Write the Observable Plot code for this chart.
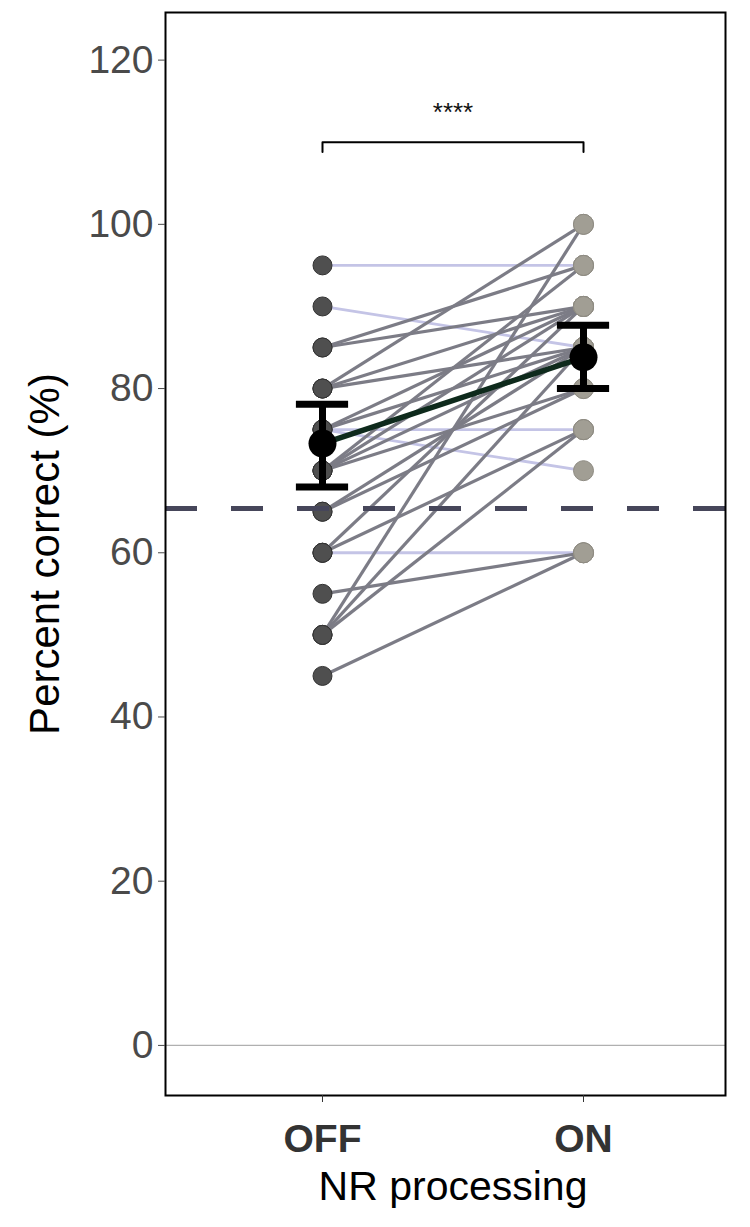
<!DOCTYPE html>
<html>
<head>
<meta charset="utf-8">
<script src="https://cdn.jsdelivr.net/npm/d3@7"></script>
<script src="https://cdn.jsdelivr.net/npm/@observablehq/plot@0.6"></script>
<style>
  html, body { margin: 0; padding: 0; background: #fff; }
  #chart svg { display: block; }
</style>
</head>
<body>
<div id="chart"></div>
<script>
// Conditions and tick labels
const conditions = ["OFF", "ON"];
const yTicks = [0, 20, 40, 60, 80, 100, 120];

// Individual participants: percent correct with NR processing OFF and ON
const offScores = [95, 90, 85, 85, 80, 80, 80, 75, 75, 75, 75, 70, 70, 70, 70, 65, 65, 60, 60, 60, 55, 50, 50, 50, 45];
const onScores  = [95, 85, 95, 90, 100, 85, 90, 75, 70, 90, 85, 85, 95, 80, 90, 85, 80, 60, 90, 75, 60, 75, 85, 100, 60];

// Group summary (mean and error bar limits)
const meanScores = [73.3, 83.8];
const errLow  = [68.0, 80.0];
const errHigh = [78.1, 87.7];

// Chance / reference level and significance annotation
const referenceLevel = 65.4;
const bracketLevel = 110;
const bracketDrop = 1.2;
const sigLabel = "****";

const capHalf = 0.1;
const pairs = offScores.map((v, i) => ({off: v, on: onScores[i], worse: onScores[i] <= v}));
const summary = conditions.map((c, i) => ({x: i, mean: meanScores[i], lo: errLow[i], hi: errHigh[i]}));
const offPts = offScores.map(v => ({x: 0, y: v}));
const onPts = onScores.map(v => ({x: 1, y: v}));
const bracket = [
  {x: 0, y: bracketLevel - bracketDrop}, {x: 0, y: bracketLevel},
  {x: 1, y: bracketLevel}, {x: 1, y: bracketLevel - bracketDrop}
];

const chart = Plot.plot({
  width: 750,
  height: 1227,
  marginLeft: 165,
  marginRight: 25,
  marginTop: 12,
  marginBottom: 132,
  style: {fontFamily: "'Liberation Sans', Arial, sans-serif", background: "#fff"},
  x: {type: "linear", domain: [-0.6015, 1.544]},
  y: {domain: [-6.1, 125.8]},
  marks: [
    Plot.ruleY([0], {stroke: "#b0b0b0", strokeWidth: 1.2}),
    Plot.link(pairs.filter(d => d.worse), {x1: () => 0, y1: "off", x2: () => 1, y2: "on", stroke: "#c4c4e6", strokeWidth: 2.8}),
    Plot.link(pairs.filter(d => !d.worse), {x1: () => 0, y1: "off", x2: () => 1, y2: "on", stroke: "#7c7c86", strokeWidth: 3.2}),
    Plot.dot(offPts, {x: "x", y: "y", r: 9.5, fill: "#4f4f4f", stroke: "#333", strokeWidth: 1}),
    Plot.dot(onPts, {x: "x", y: "y", r: 10, fill: "#a19e94", stroke: "#8e8b82", strokeWidth: 1}),
    Plot.ruleY([referenceLevel], {stroke: "#46465a", strokeWidth: 5, strokeDasharray: "32,34"}),
    Plot.line(summary, {x: "x", y: "mean", stroke: "#0e2a1c", strokeWidth: 5.5}),
    Plot.ruleX(summary, {x: "x", y1: "lo", y2: "hi", stroke: "#000", strokeWidth: 7}),
    Plot.ruleY(summary, {y: "lo", x1: d => d.x - capHalf, x2: d => d.x + capHalf, stroke: "#000", strokeWidth: 7}),
    Plot.ruleY(summary, {y: "hi", x1: d => d.x - capHalf, x2: d => d.x + capHalf, stroke: "#000", strokeWidth: 7}),
    Plot.dot(summary, {x: "x", y: "mean", r: 14, fill: "#000"}),
    Plot.line(bracket, {x: "x", y: "y", stroke: "#000", strokeWidth: 2}),
    Plot.text([sigLabel], {x: 0.5, y: 113.6, text: d => d, fontSize: 26, fill: "#111"}),
    Plot.frame({stroke: "#000", strokeWidth: 2}),
    Plot.axisY({ticks: yTicks, tickSize: 7, tickPadding: 5, fontSize: 39, color: "#4a4a4a", label: null}),
    Plot.axisX({ticks: [0, 1], tickFormat: i => conditions[i], tickSize: 7, tickPadding: 22, fontSize: 39, fontWeight: "bold", color: "#333", label: null}),
    Plot.text(["Percent correct (%)"], {frameAnchor: "left", textAnchor: "middle", dx: -120, rotate: -90, text: d => d, fontSize: 42, fill: "#000"}),
    Plot.text(["NR processing"], {x: 0.5, frameAnchor: "bottom", dy: 104, text: d => d, fontSize: 41, fill: "#000"})
  ]
});
document.getElementById("chart").appendChild(chart);
</script>
</body>
</html>
